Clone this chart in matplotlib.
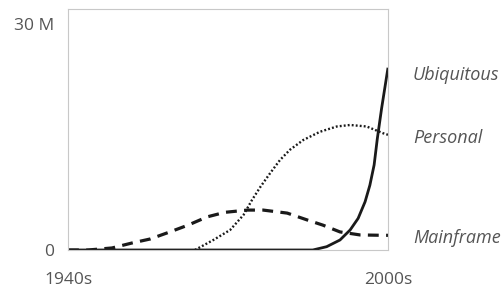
import matplotlib
matplotlib.use("Agg")
import matplotlib.pyplot as plt

# Data (millions of units)
ubiq_years = [1940, 1985.9, 1988.5, 1991.0, 1992.9, 1994.4, 1995.7, 1996.6, 1997.4, 1998.0, 1998.8, 1999.4, 2000]
ubiq_vals  = [0,    0,      0.44,   1.33,   2.66,   4.2,    6.4,    8.6,    11.3,   14.8,   18.8,   21.5,   24.2]

pers_years = [1963.8, 1967.25, 1970.4, 1972.9, 1974.5, 1976.1, 1977.9, 1979.75, 1981.6, 1984.1, 1987.25, 1990.4, 1992.9, 1996.0, 1999.1, 2000]
pers_vals  = [0,      1.33,    2.66,   4.65,   6.64,   8.41,   10.2,   11.95,   13.3,   14.6,   15.7,    16.4,   16.6,   16.4,   15.5,   15.3]

main_years = [1940, 1943.75, 1948.25, 1952, 1955.4, 1959.1, 1962.5, 1966.1, 1969.4, 1973.6, 1976.6, 1981.1, 1984.8, 1987.8, 1991, 1994.75, 1999, 2000]
main_vals  = [0,    0,       0.27,    0.93, 1.46,   2.4,    3.3,    4.4,    5.0,    5.3,    5.3,    4.9,    4.0,    3.3,    2.4,  2.0,     1.95, 1.95]

series_labels = ["Ubiquitous", "Personal", "Mainframe"]
x_ticks = [1940, 2000]
x_tick_labels = ["1940s", "2000s"]
y_ticks = [0, 30]
y_tick_labels = ["0", "30 M"]

# layout: vertical positions of the right-hand labels (data units)
label_pos = [23.2, 14.9, 1.6]

plt.rcParams['font.family'] = ['Open Sans', 'DejaVu Sans']
text_color = "#555555"

fig = plt.figure(figsize=(5.02, 2.88), dpi=100)
ax = fig.add_axes([68/502, 38/288, 320/502, 241/288])

ax.plot(main_years, main_vals, color="#1a1a1a", lw=2.3, dashes=(3.4, 2.3),
        solid_capstyle="butt", dash_capstyle="butt")
ax.plot(pers_years, pers_vals, color="#1a1a1a", lw=1.7, dashes=(0.8, 0.9))
ax.plot(ubiq_years, ubiq_vals, color="#1a1a1a", lw=2.0, solid_capstyle="butt")

ax.set_xlim(1940, 2000)
ax.set_ylim(0, 32)
for s in ax.spines.values():
    s.set_color("#c8c8c8")
    s.set_linewidth(0.8)

ax.set_xticks(x_ticks)
ax.set_xticklabels(x_tick_labels)
ax.set_yticks(y_ticks)
ax.set_yticklabels(y_tick_labels)
ax.tick_params(axis="both", length=0, labelsize=12.5, colors=text_color)
ax.tick_params(axis="x", pad=16)
ax.tick_params(axis="y", pad=10)
ylabs = ax.get_yticklabels()

for name, yv in zip(series_labels, label_pos):
    ax.annotate(name, xy=(2000, yv), xytext=(18, 0), textcoords="offset points",
                fontsize=13, style="italic", color=text_color, va="center",
                ha="left", annotation_clip=False)

fig.savefig("out.png", dpi=100)
